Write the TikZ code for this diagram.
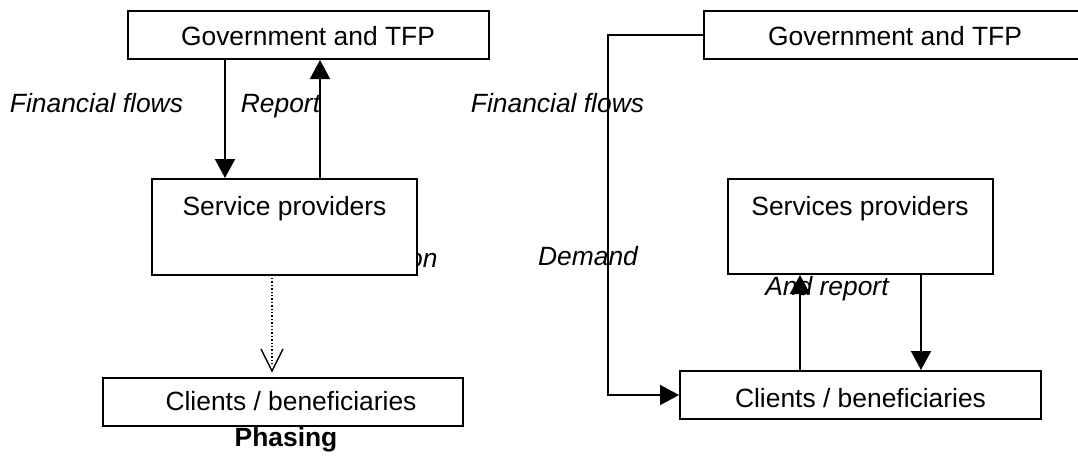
\documentclass[tikz,border=0pt]{standalone}
\usepackage{fontspec}
\setmainfont{Liberation Sans}
\usetikzlibrary{arrows.meta}
\tikzset{
  box/.style={draw=black, line width=1pt, fill=white, rectangle, inner sep=0pt},
  txt/.style={inner sep=0pt, anchor=base, font=\fontsize{13.2}{15}\selectfont},
  lbl/.style={inner sep=0pt, anchor=base, font=\fontsize{13.2}{15}\selectfont\itshape},
  arr/.style={line width=1pt, -{Triangle[length=9.5pt,width=10pt]}},
  dline/.style={line width=0.7pt, densely dotted},
  vtip/.style={line width=0.7pt, solid, line join=miter}
}
\begin{document}
\begin{tikzpicture}[x=0.5pt,y=-0.5pt]
\clip (0,0) rectangle (1078,456);
\fill[white] (0,0) rectangle (1078,456);
% labels (drawn first, boxes and lines go over them)
\node[lbl] (lff) at (96.5,112) {Financial flows};
\node[lbl] (lrep) at (280.5,112) {Report};
\node[lbl, anchor=base east] (linf) at (438,267) {Information};
\node[lbl] (rff) at (557.5,112) {Financial flows};
\node[lbl] (rdem) at (588,265) {Demand};
\node[lbl] (rrep) at (827,295) {And report};
% left boxes
\node[box, minimum width=180.5pt, minimum height=24pt] (g1) at (308.5,35) {};
\node[box, minimum width=132.5pt, minimum height=48pt] (s1) at (284.5,227) {};
\node[box, minimum width=180pt, minimum height=24pt] (c1) at (283,402) {};
\node[txt] (g1t) at (308,45) {Government and TFP};
\node[txt] (s1t) at (284.5,215) {Service providers};
\node[txt] (c1t) at (291,410) {Clients / beneficiaries};
\node[txt, font=\fontsize{13.2}{15}\selectfont\bfseries] (ph) at (286,446) {Phasing};
% right boxes
\node[box, minimum width=191pt, minimum height=24pt] (g2) at (895,35) {};
\node[box, minimum width=132.5pt, minimum height=47.5pt] (s2) at (860.5,226.5) {};
\node[box, minimum width=180.5pt, minimum height=24pt] (c2) at (860.5,395) {};
\node[txt] (g2t) at (895,45) {Government and TFP};
\node[txt] (s2t) at (860,215) {Services providers};
\node[txt] (c2t) at (860.5,407) {Clients / beneficiaries};
% helper coordinates
\coordinate (xa) at (225,0);
\coordinate (xb) at (320,0);
\coordinate (xc) at (272,0);
\coordinate (xd) at (608,0);
\coordinate (xe) at (800,0);
\coordinate (xf) at (921,0);
\coordinate (vt) at ([yshift=3pt]c1.north -| xc);
% left connectors
\draw[arr] (g1.south -| xa) -- (s1.north -| xa);
\draw[arr] (s1.north -| xb) -- (g1.south -| xb);
\draw[dline] ([yshift=-1pt]s1.south -| xc) -- ([yshift=3pt]vt);
\draw[vtip] ([xshift=-5.5pt,yshift=11pt]vt) -- (vt) -- ([xshift=5.5pt,yshift=11pt]vt);
% right connectors
\draw[arr] (g2.west) -- (g2.west -| xd) |- (c2.west);
\draw[arr] (c2.north -| xe) -- (s2.south -| xe);
\draw[arr] (s2.south -| xf) -- (c2.north -| xf);
\end{tikzpicture}
\end{document}
